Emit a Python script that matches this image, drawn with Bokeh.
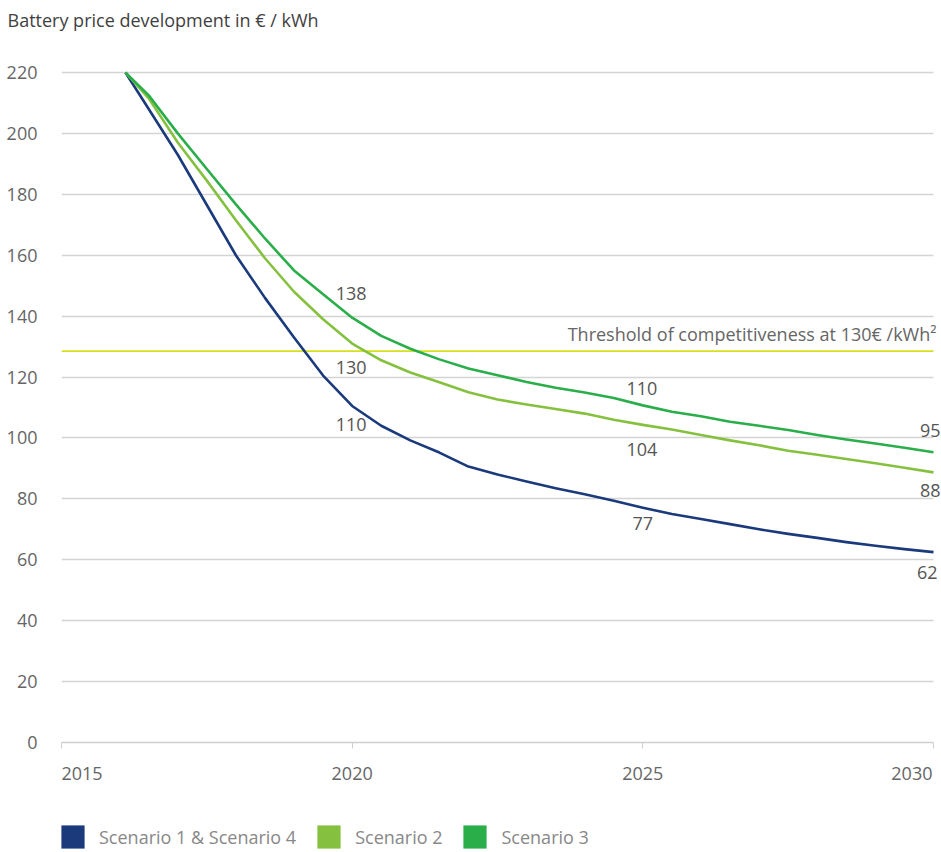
from bokeh.plotting import figure
from bokeh.layouts import column
from bokeh.models import Range1d, FixedTicker, Label, Legend, LegendItem
from bokeh.embed import file_html
from bokeh.resources import INLINE

# ---------------- data ----------------
years = [2016.1, 2016.5, 2017, 2017.5, 2018, 2018.5, 2019, 2019.5, 2020, 2020.5,
         2021, 2021.5, 2022, 2022.5, 2023, 2023.5, 2024, 2024.5, 2025, 2025.5,
         2026, 2026.5, 2027, 2027.5, 2028, 2028.5, 2029, 2029.5, 2030]

scenario_1_4 = [220, 208, 193, 176.5, 160, 146, 133, 120.5, 110.5, 104,
                99.2, 95.2, 90.6, 88, 85.7, 83.5, 81.5, 79.4, 77.1, 75,
                73.4, 71.7, 70, 68.5, 67.2, 65.8, 64.6, 63.5, 62.5]

scenario_2 = [220, 211.5, 197, 184.5, 171.5, 159, 148, 139, 131, 125.5,
              121.5, 118.3, 115, 112.6, 111, 109.5, 108, 106, 104.3, 102.8,
              101, 99.2, 97.6, 95.8, 94.5, 93.1, 91.7, 90.2, 88.7]

scenario_3 = [220, 212.5, 200, 188.3, 176.7, 165.5, 155, 147.2, 139.5, 133.5,
              129.3, 125.8, 122.8, 120.6, 118.4, 116.5, 114.9, 113.1, 110.7, 108.6,
              107.1, 105.3, 104, 102.6, 101, 99.5, 98.2, 96.8, 95.3]

series_names = ["Scenario 1 & Scenario 4", "Scenario 2", "Scenario 3"]

threshold = 128.5
threshold_text = "Threshold of competitiveness at 130\u20ac /kWh\u00b2"

# value annotations: year, value
label_years = [2020, 2020, 2020, 2025, 2025, 2025, 2030, 2030, 2030]
label_values = [138, 130, 110, 110, 104, 77, 95, 88, 62]

x_ticks = [2015, 2020, 2025, 2030]
x_tick_labels = ["2015", "2020", "2025", "2030"]
y_ticks = [0, 20, 40, 60, 80, 100, 120, 140, 160, 180, 200, 220]

title_text = "Battery price development in \u20ac / kWh"

# ---------------- style / layout ----------------
FONT = "Open Sans"
colors = ["#1a3a7c", "#85c13f", "#2aae4a"]
lab_dx = [-1, -1, -1, -1, -1, 0, 7, 7, 4]
lab_dy = [29, -21, -17, 19, -24, -15.5, 23, -16, -19]
lab_align = ["center"] * 6 + ["right"] * 3

W = 941
H1 = 802
FR_LEFT, FR_TOP, FR_BOTTOM = 61, 41, 742          # frame edges (px)
PX_PER_YEAR = (933 - 61) / (x_ticks[-1] - x_ticks[0])
PX_PER_UNIT = (742 - 72) / 220
x_end = x_ticks[0] + (W - FR_LEFT) / PX_PER_YEAR
y_end = (FR_BOTTOM - FR_TOP) / PX_PER_UNIT

p = figure(width=W, height=H1, output_backend="svg", toolbar_location=None,
           x_range=Range1d(x_ticks[0], x_end), y_range=Range1d(0, y_end),
           min_border_left=FR_LEFT, min_border_right=0, min_border_top=FR_TOP,
           min_border_bottom=H1 - FR_BOTTOM)
p.outline_line_color = None
p.background_fill_color = "white"
p.border_fill_color = "white"

# title
p.title.text = title_text
p.title.align = "left"
p.title.vertical_align = "top"
p.title.offset = -54
p.title.standoff = 15
p.title.text_font = FONT
p.title.text_font_size = "18px"
p.title.text_font_style = "normal"
p.title.text_color = "#3f3f3f"

# x axis (end labels padded with blank space so they sit flush with the ticks)
overrides = {}
for i, (t, s) in enumerate(zip(x_ticks, x_tick_labels)):
    if i == 0:
        overrides[t] = "\u2007" * 4 + s
    elif i == len(x_ticks) - 1:
        overrides[t] = s + "\u2002"
    else:
        overrides[t] = s
p.xaxis.ticker = FixedTicker(ticks=x_ticks)
p.xaxis.major_label_overrides = overrides
p.xaxis.bounds = (x_ticks[0], x_ticks[-1])
p.xaxis.axis_line_color = "#cfcfcf"
p.xaxis.axis_line_width = 1.5
p.xaxis.major_tick_line_color = "#cfcfcf"
p.xaxis.major_tick_out = 6
p.xaxis.major_tick_in = 0
p.xaxis.minor_tick_line_color = None
p.xaxis.major_label_standoff = 12
p.xaxis.major_label_text_font = FONT
p.xaxis.major_label_text_font_size = "18px"
p.xaxis.major_label_text_color = "#666666"

# y axis
p.yaxis.ticker = FixedTicker(ticks=y_ticks)
p.yaxis.axis_line_color = None
p.yaxis.major_tick_line_color = None
p.yaxis.minor_tick_line_color = None
p.yaxis.major_tick_out = 0
p.yaxis.major_tick_in = 0
p.yaxis.major_label_standoff = 24
p.yaxis.major_label_text_font = FONT
p.yaxis.major_label_text_font_size = "18px"
p.yaxis.major_label_text_color = "#666666"

p.xgrid.visible = False
p.ygrid.ticker = FixedTicker(ticks=y_ticks)
p.ygrid.grid_line_color = "#d4d4d4"
p.ygrid.grid_line_width = 1.3
try:
    p.ygrid[0].cross_bounds = (x_ticks[0], x_ticks[-1])
except Exception:
    pass

# threshold line + text
p.line([x_ticks[0], x_ticks[-1]], [threshold, threshold], line_color="#d6e01e",
       line_width=1.6)
p.add_layout(Label(x=x_ticks[-1], y=threshold, x_offset=3, y_offset=17,
                   text=threshold_text, text_align="right", text_baseline="middle",
                   text_font=FONT, text_font_size="18px", text_color="#666666"))

# lines
series = [scenario_1_4, scenario_2, scenario_3]
for vals, c in zip(series, colors):
    p.line(years, vals, line_color=c, line_width=2.6, line_join="round")

# value labels
for x, v, dx, dy, al in zip(label_years, label_values, lab_dx, lab_dy, lab_align):
    p.add_layout(Label(x=x, y=v, x_offset=dx, y_offset=dy, text=str(v),
                       text_align=al, text_baseline="middle", text_font=FONT,
                       text_font_size="18px", text_color="#555555"))

# ---------------- legend strip ----------------
H2 = 49
p2 = figure(width=W, height=H2, output_backend="svg", toolbar_location=None,
            x_axis_location=None, y_axis_location=None,
            x_range=Range1d(0, 1), y_range=Range1d(0, 1),
            min_border_left=0, min_border_right=0, min_border_top=0,
            min_border_bottom=0)
p2.outline_line_color = None
p2.grid.visible = False

items = []
for name, vals, c in zip(series_names, series, colors):
    # swatch renderer: a zero-size quad at the series' first point (outside this strip's view)
    r = p2.quad(left=years[:1], right=years[:1], top=vals[:1], bottom=vals[:1],
                fill_color=c, line_color=None)
    items.append(LegendItem(label=name, renderers=[r]))
legend = Legend(items=items, orientation="horizontal", location=(-3, 0),
                glyph_width=29, glyph_height=29, label_standoff=12, spacing=18,
                padding=0, margin=0, border_line_color=None,
                background_fill_alpha=0, label_text_font=FONT,
                label_text_font_size="18px", label_text_color="#888888")
p2.add_layout(legend)

layout = column(p, p2, spacing=0)
open("out.html", "w").write(file_html(layout, INLINE))
